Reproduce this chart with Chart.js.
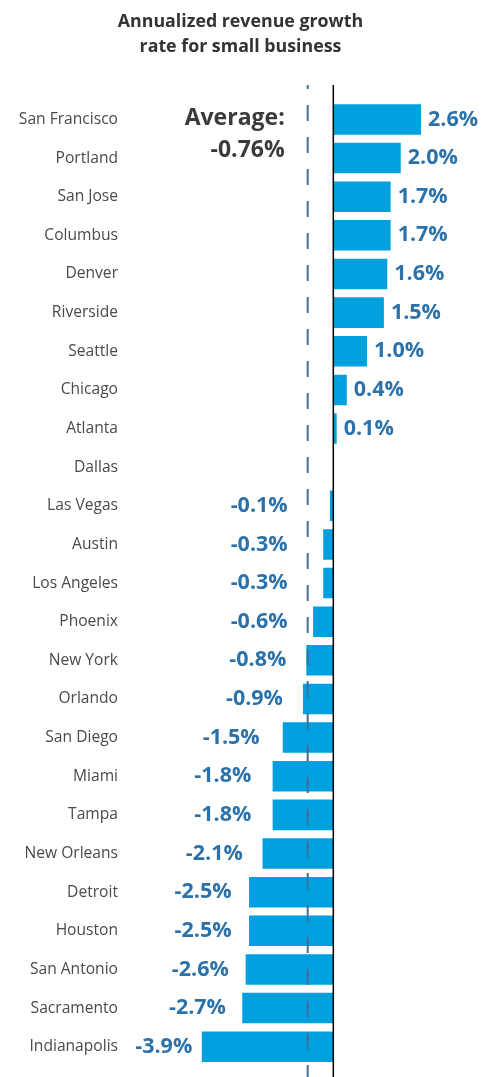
<!DOCTYPE html>
<html>
<head>
<meta charset="utf-8">
<script src="https://cdn.jsdelivr.net/npm/chart.js@4"></script>
<style>
    html, body { margin: 0; padding: 0; background: #fff; }
    #wrap { width: 489px; height: 1077px; position: relative; }
</style>
</head>
<body>
<div id="wrap"><canvas id="grafico"></canvas></div>
<script>
const cidades = ['San Francisco', 'Portland', 'San Jose', 'Columbus', 'Denver', 'Riverside', 'Seattle', 'Chicago', 'Atlanta', 'Dallas',
    'Las Vegas', 'Austin', 'Los Angeles', 'Phoenix', 'New York', 'Orlando', 'San Diego', 'Miami', 'Tampa', 'New Orleans',
    'Detroit', 'Houston', 'San Antonio', 'Sacramento', 'Indianapolis'];
const crescimento = [2.6, 2.0, 1.7, 1.7, 1.6, 1.5, 1.0, 0.4, 0.1, 0,
    -0.1, -0.3, -0.3, -0.6, -0.8, -0.9, -1.5, -1.8, -1.8, -2.1,
    -2.5, -2.5, -2.6, -2.7, -3.9];
const rotulos = ['2.6%', '2.0%', '1.7%', '1.7%', '1.6%', '1.5%', '1.0%', '0.4%', '0.1%', '',
    '-0.1%', '-0.3%', '-0.3%', '-0.6%', '-0.8%', '-0.9%', '-1.5%', '-1.8%', '-1.8%', '-2.1%',
    '-2.5%', '-2.5%', '-2.6%', '-2.7%', '-3.9%'];
const media = -0.76;
const mediaTexto = ['Average:', '-0.76%'];

const fonte = '"Open Sans", "Noto Sans", sans-serif';
const corRotulo = '#2b72ab';

// linhas verticais, rotulos das barras e texto da media
const extras = {
    id: 'extras',
    afterDatasetsDraw(chart) {
        const ctx = chart.ctx;
        const x = chart.scales.x;
        const x0 = x.getPixelForValue(0);
        const xm = x.getPixelForValue(media);
        const topo = 85, fundo = chart.height;

        ctx.save();
        ctx.strokeStyle = '#000';
        ctx.lineWidth = 1.5;
        ctx.beginPath();
        ctx.moveTo(x0, topo);
        ctx.lineTo(x0, fundo);
        ctx.stroke();

        ctx.strokeStyle = '#3d6f99';
        ctx.lineWidth = 2;
        ctx.setLineDash([16, 16]);
        ctx.lineDashOffset = 12;
        ctx.beginPath();
        ctx.moveTo(xm, topo);
        ctx.lineTo(xm, fundo);
        ctx.stroke();
        ctx.setLineDash([]);

        ctx.font = 'bold 21.5px ' + fonte;
        ctx.fillStyle = corRotulo;
        ctx.textBaseline = 'middle';
        const meta = chart.getDatasetMeta(0);
        meta.data.forEach((barra, i) => {
            const txt = rotulos[i];
            if (!txt) return;
            const v = crescimento[i];
            if (v >= 0) {
                ctx.textAlign = 'left';
                ctx.fillText(txt, barra.x + 7, barra.y);
            } else {
                // barras longas ficam com o rotulo mais perto
                const gap = -v < 1.5 ? 20 : 23 - (-v - 1.5) * 5.6;
                ctx.textAlign = 'right';
                ctx.fillText(txt, Math.min(barra.x, xm) - gap, barra.y);
            }
        });

        ctx.font = 'bold 23px ' + fonte;
        ctx.fillStyle = '#3a3a3a';
        ctx.textAlign = 'right';
        ctx.textBaseline = 'alphabetic';
        ctx.fillText(mediaTexto[0], xm - 23, 125);
        ctx.fillText(mediaTexto[1], xm - 23, 157);
        ctx.restore();
    }
};

new Chart(document.getElementById('grafico').getContext('2d'), {
    type: 'bar',
    data: {
        labels: cidades,
        datasets: [{
            data: crescimento,
            backgroundColor: '#00a0df',
            borderWidth: 0,
            categoryPercentage: 1,
            barPercentage: 0.79
        }]
    },
    options: {
        indexAxis: 'y',
        responsive: true,
        maintainAspectRatio: false,
        animation: false,
        layout: { padding: { left: 0, right: 8, top: 0, bottom: 11 } },
        scales: {
            x: {
                display: false,
                min: -6,
                max: 4.38
            },
            y: {
                afterFit(scale) {
                    scale.width = 131;
                    scale.paddingTop = 0;
                    scale.paddingBottom = 0;
                },
                grid: { display: false, drawTicks: false },
                border: { display: false },
                ticks: {
                    padding: 13,
                    color: '#4a4a4a',
                    font: { family: fonte, size: 15.6 }
                }
            }
        },
        plugins: {
            legend: { display: false },
            tooltip: { enabled: false },
            title: {
                display: true,
                text: ['Annualized revenue growth', 'rate for small business'],
                color: '#333',
                font: { family: fonte, size: 17.8, weight: 'bold', lineHeight: 1.38 },
                padding: { top: 10, bottom: 41 }
            }
        }
    },
    plugins: [extras]
});
</script>
</body>
</html>
